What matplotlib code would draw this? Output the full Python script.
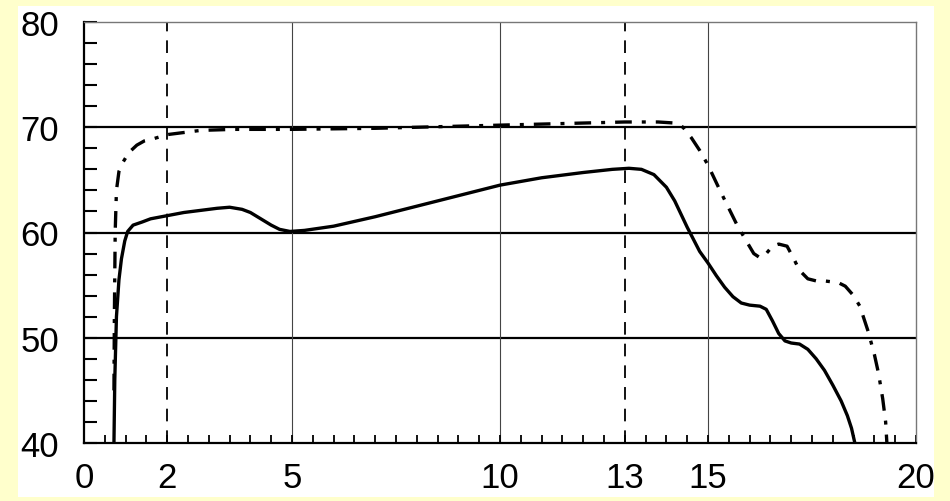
import matplotlib
matplotlib.use("Agg")
import matplotlib.pyplot as plt
from matplotlib.patches import Rectangle
from matplotlib.ticker import MultipleLocator

# ---- data ----
solid_x = [0.72, 0.74, 0.78, 0.84, 0.90, 0.98, 1.05, 1.18, 1.40, 1.60, 2.0, 2.4, 2.8, 3.2, 3.5,
           3.8, 4.0, 4.25, 4.5, 4.7, 4.95, 5.3, 6.0, 7.0, 8.0, 9.0, 10.0, 11.0, 12.0, 12.7,
           13.1, 13.4, 13.7, 14.0, 14.2, 14.5, 14.8, 15.0, 15.2, 15.4, 15.6, 15.8, 16.0,
           16.25, 16.4, 16.55, 16.7, 16.85, 17.0, 17.2, 17.4, 17.6, 17.8, 18.0, 18.2, 18.35,
           18.45, 18.53]
solid_y = [40.0, 46.0, 52.0, 55.5, 57.5, 59.2, 60.1, 60.7, 61.0, 61.3, 61.6, 61.9, 62.1, 62.3, 62.4,
           62.2, 61.9, 61.3, 60.7, 60.3, 60.1, 60.2, 60.6, 61.5, 62.5, 63.5, 64.5, 65.2, 65.7, 66.0,
           66.1, 66.0, 65.5, 64.3, 63.0, 60.5, 58.2, 57.1, 55.9, 54.8, 53.9, 53.3, 53.1,
           53.0, 52.7, 51.6, 50.4, 49.7, 49.5, 49.4, 48.9, 48.0, 46.9, 45.5, 44.0, 42.6,
           41.4, 40.0]

dashdot_x = [0.72, 0.73, 0.75, 0.78, 0.84, 0.94, 1.08, 1.27, 1.45, 1.66, 2.0, 2.4, 2.8, 3.6, 5.0,
             7.0, 9.0, 11.0, 13.0, 13.8, 14.2, 14.4, 14.6, 14.8, 15.0, 15.3, 15.7, 15.95,
             16.1, 16.25, 16.4, 16.55, 16.7, 16.9, 17.05, 17.2, 17.4, 17.6, 17.8, 18.0, 18.15,
             18.3, 18.5, 18.65, 18.85, 19.0, 19.1, 19.2, 19.27, 19.3]
dashdot_y = [45.0, 52.0, 60.1, 64.0, 65.8, 66.7, 67.6, 68.3, 68.7, 68.9, 69.3, 69.5, 69.7, 69.8, 69.8,
             69.9, 70.1, 70.3, 70.5, 70.5, 70.4, 70.0, 69.0, 67.8, 66.4, 63.9, 60.7, 59.0,
             58.0, 57.6, 58.0, 58.7, 58.9, 58.7, 57.6, 56.4, 55.6, 55.4, 55.4, 55.3, 55.2,
             54.9, 54.0, 53.0, 50.6, 48.4, 46.6, 44.2, 42.0, 40.0]

x_ticks = [0, 2, 5, 10, 13, 15, 20]
y_ticks = [40, 50, 60, 70, 80]
h_lines = [50, 60, 70]
v_lines = [5, 10, 15]
dashed_v = [2, 13]

plt.rcParams['font.family'] = ['Liberation Sans', 'DejaVu Sans']

fig = plt.figure(figsize=(9.5, 5.02), dpi=100)
fig.patch.set_facecolor('#FFFFCC')
bg = Rectangle((18 / 950, 4 / 502), (934 - 18) / 950, (495 - 4) / 502,
               transform=fig.transFigure, facecolor='white',
               edgecolor='none', zorder=-10)
fig.patches.append(bg)

ax = fig.add_axes([84 / 950, 58 / 502, (916 - 84) / 950, (444 - 23) / 502])
ax.set_zorder(1)
ax.set_facecolor('white')
ax.set_xlim(0, 20)
ax.set_ylim(40, 80)

for y in h_lines:
    ax.axhline(y, color='black', lw=1.6, zorder=1)
for x in v_lines:
    ax.axvline(x, color='#444444', lw=0.8, zorder=1)
for x in dashed_v:
    ax.axvline(x, color='black', lw=1.3, dashes=(7, 5), zorder=1)

ax.plot(solid_x, solid_y, color='black', lw=2.4, zorder=3, solid_capstyle='butt')
ax.plot(dashdot_x, dashdot_y, color='black', lw=2.4, zorder=3,
        dashes=(5, 3, 1.2, 3))

ax.set_xticks(x_ticks)
ax.set_yticks(y_ticks)
ax.xaxis.set_minor_locator(MultipleLocator(0.5))
ax.yaxis.set_minor_locator(MultipleLocator(2))
ax.tick_params(axis='x', which='both', direction='in', length=6, width=1.3,
               labelsize=25, pad=13, top=False)
ax.tick_params(axis='y', which='both', direction='in', length=9, width=1.5,
               labelsize=25, pad=18, right=False)

for side in ['left', 'bottom']:
    ax.spines[side].set_linewidth(1.6)
    ax.spines[side].set_color('black')
for side in ['top', 'right']:
    ax.spines[side].set_linewidth(1.0)
    ax.spines[side].set_color('#777777')

fig.savefig('out.png', dpi=100, facecolor=fig.get_facecolor())
